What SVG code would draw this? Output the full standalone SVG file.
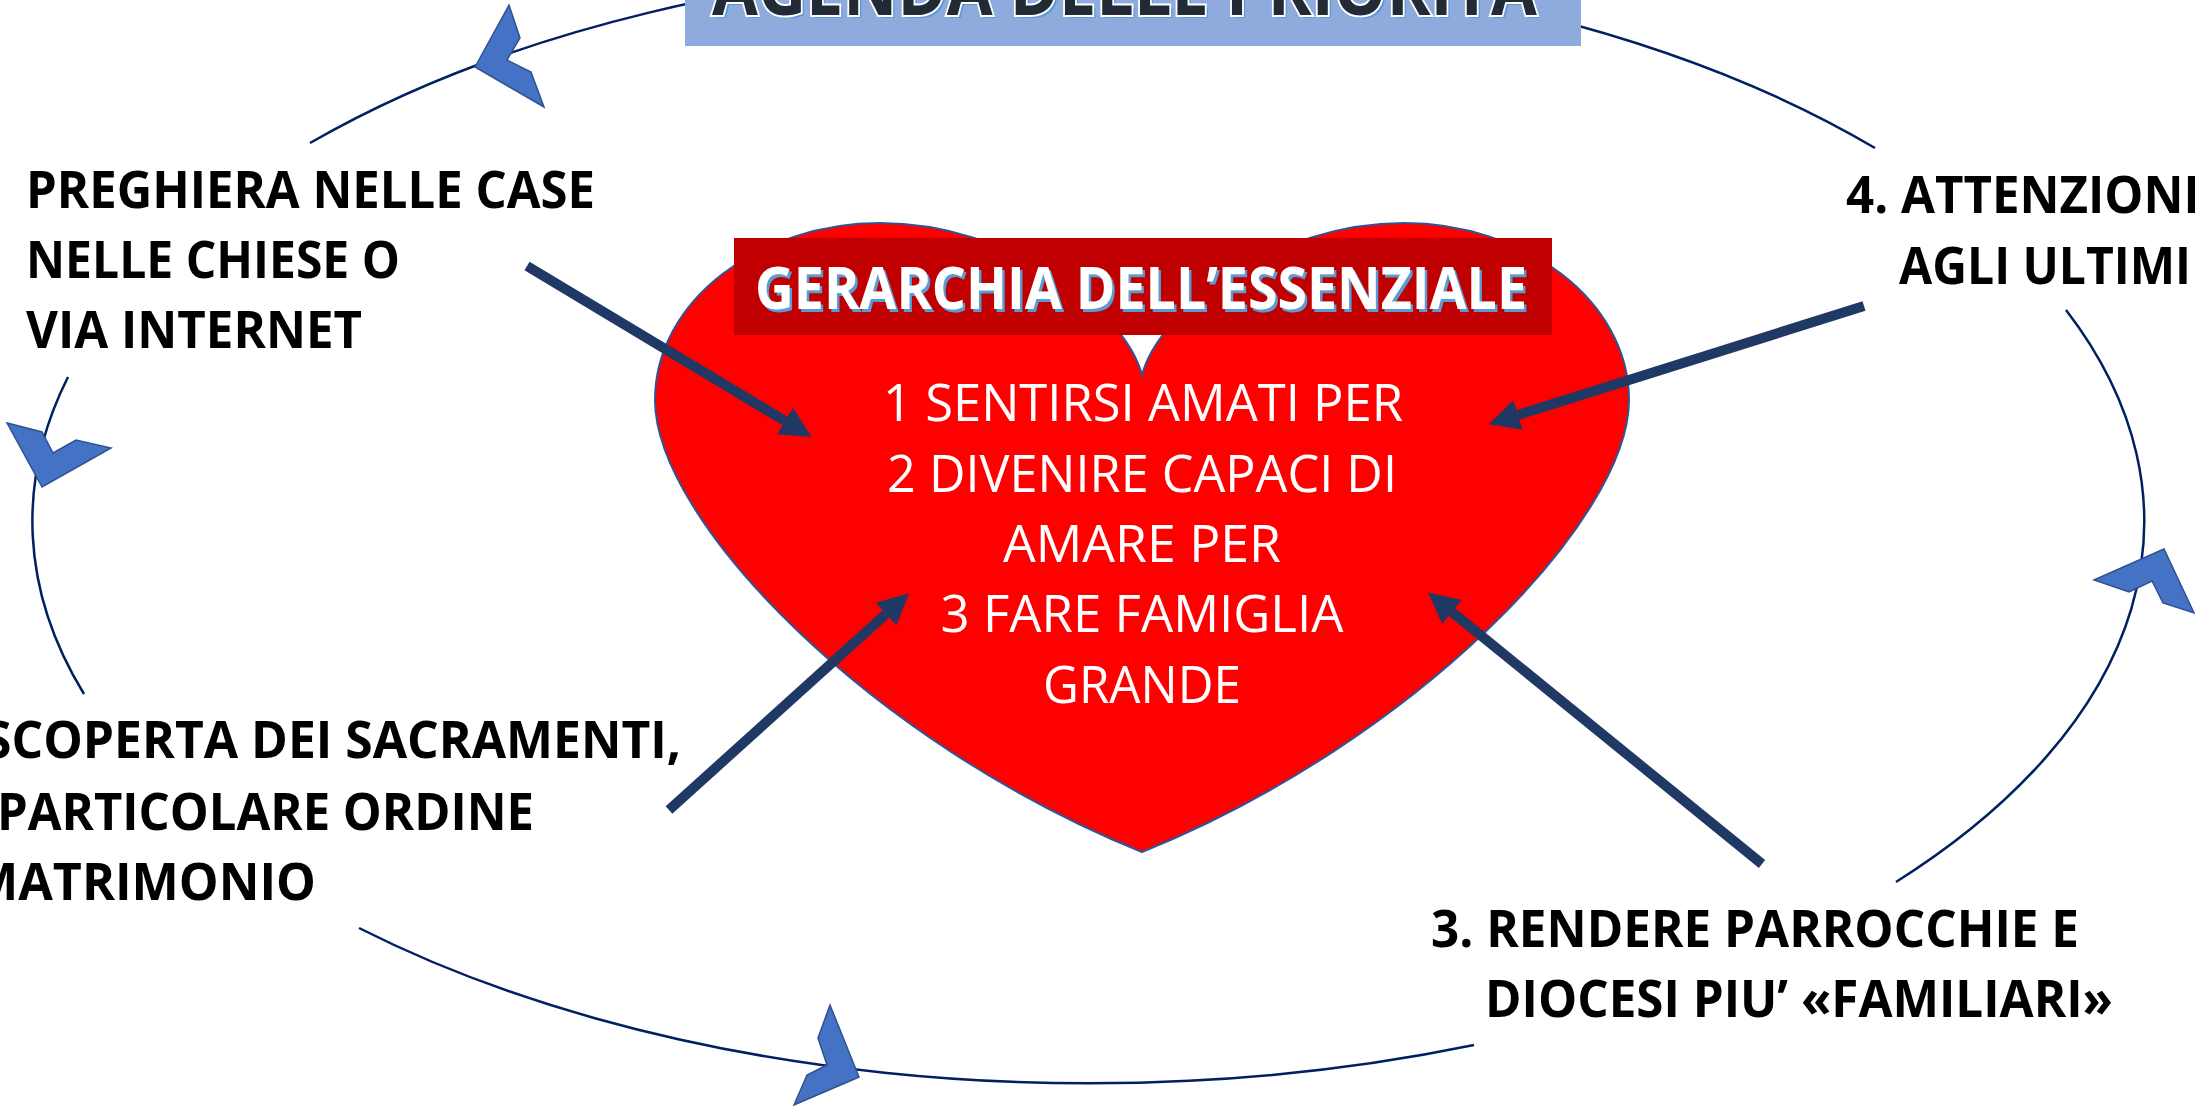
<svg xmlns="http://www.w3.org/2000/svg" width="2195" height="1106" viewBox="0 0 2195 1106">
<style>
.arc{fill:none;stroke:#002060;stroke-width:2.5}
.chev{fill:#4472C4;stroke:#2F528F;stroke-width:1.5;stroke-linejoin:miter}
.arr{fill:none;stroke:#203864;stroke-width:10}
.lbl{font-family:"Open Sans","Noto Sans",sans-serif;font-weight:bold;font-size:52px;fill:#000}
.body{font-family:"Open Sans","Noto Sans",sans-serif;font-size:52px;fill:#fff;text-anchor:middle}
.hdr{font-family:"Open Sans","Noto Sans",sans-serif;font-weight:bold;font-size:59px;text-anchor:middle}
.ttl{font-family:"Open Sans","Noto Sans",sans-serif;font-weight:bold;font-size:75px}
</style>
<defs>
<marker id="ah" viewBox="0 0 10 10" refX="0" refY="5" markerWidth="3.1" markerHeight="3.1" orient="auto" markerUnits="strokeWidth">
<path d="M0,0 L10,5 L0,10 Z" fill="#203864"/>
</marker>
</defs>
<rect width="2195" height="1106" fill="#fff"/>
<g id="cycle">
<path class="arc" d="M1875,148 A1057,560 0 0 0 310,143"/>
<path class="arc" d="M68,377 A1057,560 0 0 0 84,694"/>
<path class="arc" d="M359,928 A1057,560 0 0 0 1474,1045"/>
<path class="arc" d="M1896,882 A1057,560 0 0 0 2066,310"/>
<polygon class="chev" points="475,67 509,5 520,38 507,60 531,72 544,107"/>
<polygon class="chev" points="42,487 7,423 42,432 53,453 76,440 111,448"/>
<polygon class="chev" points="859,1077 830,1005 818,1038 827,1065 807,1075 794,1105"/>
<polygon class="chev" points="2164,549 2094,580 2129,592 2152,581 2163,603 2194,613"/>
</g>
<g id="title">
<rect x="685" y="0" width="896" height="46" fill="#8FAADC"/>
<text class="ttl" x="715" y="18" textLength="825" lengthAdjust="spacingAndGlyphs" fill="#5B9BD5">AGENDA DELLE PRIORITA</text>
<text class="ttl" x="712" y="15" textLength="825" lengthAdjust="spacingAndGlyphs" fill="#222A35" stroke="#fff" stroke-width="4" paint-order="stroke">AGENDA DELLE PRIORITA</text>
</g>
<g id="heart">
<path d="M1142,375 C1125,310 1010,223 880,223 C760,223 655,300 655,400 C655,520 870,742 1142,852 C1414,742 1629,520 1629,400 C1629,300 1524,223 1404,223 C1274,223 1159,310 1142,375 Z" fill="#FF0000" stroke="#2F5597" stroke-width="2"/>
<rect x="734" y="238" width="818" height="97" fill="#C00000"/>
<text class="hdr" x="1143.5" y="311.5" textLength="772" lengthAdjust="spacingAndGlyphs" fill="#5B9BD5">GERARCHIA DELL’ESSENZIALE</text>
<text class="hdr" x="1141" y="309" textLength="772" lengthAdjust="spacingAndGlyphs" fill="#fff">GERARCHIA DELL’ESSENZIALE</text>
<text class="body" x="1143" y="421" textLength="520" lengthAdjust="spacingAndGlyphs">1 SENTIRSI AMATI PER</text>
<text class="body" x="1142" y="492" textLength="510" lengthAdjust="spacingAndGlyphs">2 DIVENIRE CAPACI DI</text>
<text class="body" x="1142" y="562" textLength="278" lengthAdjust="spacingAndGlyphs">AMARE PER</text>
<text class="body" x="1142" y="632" textLength="403" lengthAdjust="spacingAndGlyphs">3 FARE FAMIGLIA</text>
<text class="body" x="1142" y="703" textLength="198" lengthAdjust="spacingAndGlyphs">GRANDE</text>
</g>
<g id="connectors">
<line class="arr" x1="527" y1="266" x2="785" y2="421" marker-end="url(#ah)"/>
<line class="arr" x1="1864" y1="306" x2="1518" y2="415" marker-end="url(#ah)"/>
<line class="arr" x1="669" y1="810" x2="886" y2="614" marker-end="url(#ah)"/>
<line class="arr" x1="1762" y1="864" x2="1452" y2="612" marker-end="url(#ah)"/>
</g>
<g id="label-preghiera">
<text class="lbl" x="26" y="208" textLength="569" lengthAdjust="spacingAndGlyphs">PREGHIERA NELLE CASE</text>
<text class="lbl" x="26" y="278" textLength="374" lengthAdjust="spacingAndGlyphs">NELLE CHIESE O</text>
<text class="lbl" x="26" y="348" textLength="336" lengthAdjust="spacingAndGlyphs">VIA INTERNET</text>
</g>
<g id="label-attenzione">
<text class="lbl" x="1846" y="213" textLength="365" lengthAdjust="spacingAndGlyphs">4. ATTENZIONE</text>
<text class="lbl" x="1899" y="284" textLength="292" lengthAdjust="spacingAndGlyphs">AGLI ULTIMI</text>
</g>
<g id="label-sacramenti">
<text class="lbl" x="-16" y="758" textLength="697" lengthAdjust="spacingAndGlyphs">SCOPERTA DEI SACRAMENTI,</text>
<text class="lbl" x="-3" y="830" textLength="537" lengthAdjust="spacingAndGlyphs">PARTICOLARE ORDINE</text>
<text class="lbl" x="-29" y="900" textLength="345" lengthAdjust="spacingAndGlyphs">MATRIMONIO</text>
</g>
<g id="label-parrocchie">
<text class="lbl" x="1431" y="947" textLength="648" lengthAdjust="spacingAndGlyphs">3. RENDERE PARROCCHIE E</text>
<text class="lbl" x="1485" y="1017" textLength="628" lengthAdjust="spacingAndGlyphs">DIOCESI PIU’ «FAMILIARI»</text>
</g>
</svg>
